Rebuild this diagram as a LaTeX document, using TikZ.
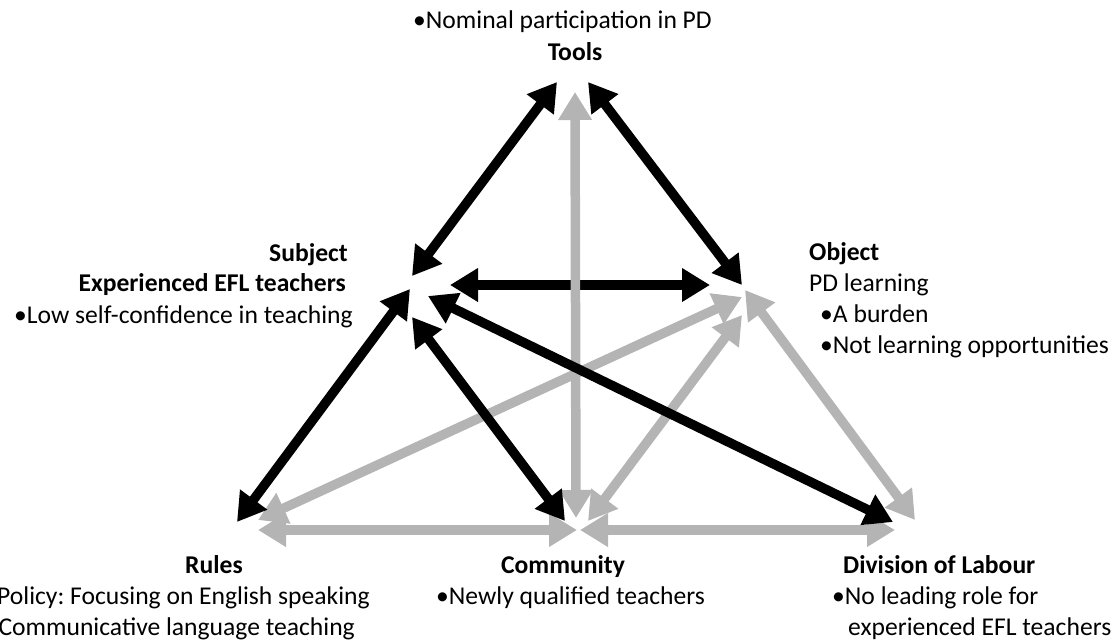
\documentclass[tikz,border=0pt]{standalone}
\usepackage{fontspec}
\setmainfont{Carlito}
\usetikzlibrary{arrows.meta}
\definecolor{lgray}{RGB}{180,180,180}
\frenchspacing
\tikzset{
  tip/.tip={Triangle[length=28pt,width=32pt]},
  blk/.style={line width=9.5pt, draw=black, tip-tip},
  gry/.style={line width=9.5pt, draw=lgray, tip-tip},
  lbl/.style={inner sep=0pt, font=\fontsize{25.6}{31}\selectfont},
  hd/.style={lbl, font=\fontsize{25.6}{31}\selectfont\bfseries},
}
\begin{document}
\frenchspacing
\begin{tikzpicture}[x=1pt,y=-1pt]
\useasboundingbox (0,0) rectangle (1120,641);
% endpoints
\coordinate (tsA) at (557,82);  \coordinate (tsB) at (412,276);
\coordinate (toA) at (588,82);  \coordinate (toB) at (742,285);
\coordinate (soA) at (450,285); \coordinate (soB) at (710,285);
\coordinate (srA) at (410,289); \coordinate (srB) at (237,522);
\coordinate (scA) at (412,317); \coordinate (scB) at (565,521);
\coordinate (sdA) at (428,296); \coordinate (sdB) at (893,522);
\coordinate (tcA) at (575,92);  \coordinate (tcB) at (576,518);
\coordinate (orA) at (742,297); \coordinate (orB) at (258,520);
\coordinate (ocA) at (742,315); \coordinate (ocB) at (588,521);
\coordinate (odA) at (745,290); \coordinate (odB) at (915,520);
\coordinate (rcA) at (258,530); \coordinate (rcB) at (577,530);
\coordinate (cdA) at (580,530); \coordinate (cdB) at (895,530);
% connectors
\draw[blk] (soA) -- (soB);
\draw[gry] (tcA) -- (tcB);
\draw[gry] (orA) -- (orB);
\draw[gry] (ocA) -- (ocB);
\draw[gry] (odA) -- (odB);
\draw[gry] (rcA) -- (rcB);
\draw[gry] (cdA) -- (cdB);
\draw[blk] (tsA) -- (tsB);
\draw[blk] (toA) -- (toB);
\draw[blk] (srA) -- (srB);
\draw[blk] (scA) -- (scB);
\draw[blk] (sdA) -- (sdB);
% labels
\node[lbl, anchor=base west] (tools1) at (413,28) {•Nominal participation in PD};
\node[hd, anchor=base] (tools) at (575,60) {Tools};
\node[hd, anchor=base east] (subj) at (348,261) {Subject};
\node[hd, anchor=base east] (subj1) at (346,291) {Experienced EFL teachers};
\node[lbl, anchor=base east] (subj2) at (353,323) {•Low self-confidence in teaching};
\node[hd, anchor=base west] (obj) at (809,260) {Object};
\node[lbl, anchor=base west] (obj1) at (809,291) {PD learning};
\node[lbl, anchor=base west] (obj2) at (820,322) {•A burden};
\node[lbl, anchor=base west] (obj3) at (820,353) {•Not learning opportunities};
\node[hd, anchor=base] (rules) at (214,573) {Rules};
\node[lbl, anchor=base east] (rules1) at (370,604) {Policy: Focusing on English speaking};
\node[lbl, anchor=base east] (rules2) at (355,635) {Communicative language teaching};
\node[hd, anchor=base] (comm) at (563,573) {Community};
\node[lbl, anchor=base west] (comm1) at (436,604) {•Newly qualified teachers};
\node[hd, anchor=base west] (div) at (843,573) {Division of Labour};
\node[lbl, anchor=base west] (div1) at (832,604) {•No leading role for};
\node[lbl, anchor=base west] (div2) at (848,635) {experienced EFL teachers};
\end{tikzpicture}
\end{document}
